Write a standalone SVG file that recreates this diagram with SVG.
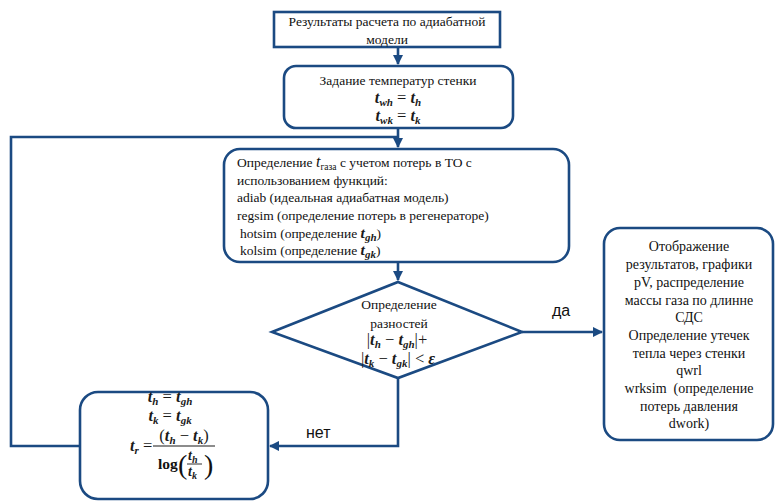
<svg xmlns="http://www.w3.org/2000/svg" width="776" height="502" viewBox="0 0 776 502">
<style>
.box{fill:#fff;stroke:#1b4a82;stroke-width:2.6}
.ln{fill:none;stroke:#1b4a82;stroke-width:2.6}
.t{font-family:"Liberation Serif","Times New Roman",serif;font-size:13.5px;fill:#111}
.t14{font-size:14px}
.c{text-anchor:middle}
.m{font-family:"Liberation Serif","Times New Roman",serif;font-style:italic;font-weight:bold;font-size:16.5px;fill:#1a1a1a}
.s{font-size:11px}
.o{font-style:normal;font-weight:normal}
.lab{font-family:"Liberation Sans",sans-serif;font-size:16px;fill:#111}
</style>
<defs>
<marker id="ah" viewBox="0 0 10 10" refX="9" refY="5" markerWidth="4" markerHeight="4" orient="auto" markerUnits="strokeWidth">
<path d="M0,0 L10,5 L0,10 z" fill="#1b4a82"/>
</marker>
</defs>
<g id="connectors">
<path class="ln" d="M398,47 V64" marker-end="url(#ah)"/>
<path class="ln" d="M398,128 V147" marker-end="url(#ah)"/>
<path class="ln" d="M80,446 H11 V137 H398"/>
<path class="ln" d="M398,262 V280" marker-end="url(#ah)"/>
<path class="ln" d="M522,332 H602" marker-end="url(#ah)"/>
<path class="ln" d="M398,378 V446 H270" marker-end="url(#ah)"/>
<text class="lab" x="552" y="316">да</text>
<text class="lab" x="306" y="438">нет</text>
</g>
<g id="n1">
<rect class="box" x="274" y="12" width="226" height="35"/>
<text class="t c" x="387" y="26">Результаты расчета по адиабатной</text>
<text class="t c" x="387" y="44">модели</text>
</g>
<g id="n2">
<rect class="box" x="284" y="66" width="229" height="62" rx="12"/>
<text class="t c" x="398" y="85">Задание температур стенки</text>
<text class="m c" x="398" y="103">t<tspan class="s" dy="2.5">wh</tspan><tspan class="o" dy="-2.5"> = </tspan>t<tspan class="s" dy="2.5">h</tspan></text>
<text class="m c" x="398" y="121">t<tspan class="s" dy="2.5">wk</tspan><tspan class="o" dy="-2.5"> = </tspan>t<tspan class="s" dy="2.5">k</tspan></text>
</g>
<g id="n3">
<rect class="box" x="224" y="149" width="345" height="113" rx="16"/>
<text class="t" x="237" y="167">Определение <tspan style="font-style:italic;font-size:16px">t</tspan><tspan style="font-size:9.5px" dy="3">газа</tspan><tspan dy="-3"> с учетом потерь в ТО с</tspan></text>
<text class="t" x="237" y="185">использованием функций:</text>
<text class="t" x="237" y="202">adiab (идеальная адиабатная модель)</text>
<text class="t" x="237" y="220">regsim (определение потерь в регенераторе)</text>
<text class="t" x="240" y="238">hotsim (определение <tspan class="m" style="font-size:15.5px">t</tspan><tspan class="m" style="font-size:11px" dy="3">gh</tspan><tspan dy="-3">)</tspan></text>
<text class="t" x="240" y="255">kolsim (определение <tspan class="m" style="font-size:15.5px">t</tspan><tspan class="m" style="font-size:11px" dy="3">gk</tspan><tspan dy="-3">)</tspan></text>
</g>
<g id="n4">
<polygon class="box" points="398,282 522,332 398,378 272,332"/>
<text class="t c" x="399" y="309">Определение</text>
<text class="t c" x="399" y="328">разностей</text>
<text class="m c" x="397" y="345"><tspan class="o">|</tspan>t<tspan class="s" dy="2.5">h</tspan><tspan class="o" dy="-2.5"> − </tspan>t<tspan class="s" dy="2.5">gh</tspan><tspan class="o" dy="-2.5">|</tspan><tspan class="o">+</tspan></text>
<text class="m c" x="398" y="364"><tspan class="o">|</tspan>t<tspan class="s" dy="2.5">k</tspan><tspan class="o" dy="-2.5"> − </tspan>t<tspan class="s" dy="2.5">gk</tspan><tspan class="o" dy="-2.5">|</tspan><tspan class="o"> &lt; </tspan>ε</text>
</g>
<g id="n5">
<rect class="box" x="604" y="228" width="169" height="212" rx="16"/>
<text class="t t14 c" x="689" y="251">Отображение</text>
<text class="t t14 c" x="689" y="269">результатов, графики</text>
<text class="t t14 c" x="689" y="287">pV, распределение</text>
<text class="t t14 c" x="689" y="305">массы газа по длинне</text>
<text class="t t14 c" x="689" y="322">СДС</text>
<text class="t t14 c" x="689" y="340">Определение утечек</text>
<text class="t t14 c" x="689" y="358">тепла через стенки</text>
<text class="t t14 c" x="689" y="375">qwrl</text>
<text class="t t14 c" x="689" y="393" xml:space="preserve">wrksim  (определение</text>
<text class="t t14 c" x="689" y="411">потерь давления</text>
<text class="t t14 c" x="689" y="428">dwork)</text>
</g>
<g id="n6">
<rect class="box" x="80" y="392" width="188" height="107" rx="18"/>
<text class="m c" x="170" y="402">t<tspan class="s" dy="2.5">h</tspan><tspan class="o" dy="-2.5"> = </tspan>t<tspan class="s" dy="2.5">gh</tspan></text>
<text class="m c" x="170" y="421">t<tspan class="s" dy="2.5">k</tspan><tspan class="o" dy="-2.5"> = </tspan>t<tspan class="s" dy="2.5">gk</tspan></text>
<text class="m" x="130" y="451">t<tspan class="s" dy="2.5">r</tspan><tspan class="o" dy="-2.5"> =</tspan></text>
<text class="m c" x="184" y="441"><tspan class="o">(</tspan>t<tspan class="s" dy="2.5">h</tspan><tspan class="o" dy="-2.5"> − </tspan>t<tspan class="s" dy="2.5">k</tspan><tspan class="o" dy="-2.5">)</tspan></text>
<line x1="153" y1="446" x2="215" y2="446" stroke="#1a1a1a" stroke-width="1.1"/>
<text class="t" x="158" y="469" style="font-size:15.5px;font-weight:bold">log</text>
<text class="t" x="178" y="474" style="font-size:28px">(</text>
<text class="t" x="204" y="474" style="font-size:28px">)</text>
<text class="m" x="188" y="460" style="font-size:14px">t<tspan style="font-size:10px" dy="2.5">h</tspan></text>
<line x1="187" y1="464" x2="202" y2="464" stroke="#1a1a1a" stroke-width="0.9"/>
<text class="m" x="188" y="476" style="font-size:14px">t<tspan style="font-size:10px" dy="2.5">k</tspan></text>
</g>
</svg>
